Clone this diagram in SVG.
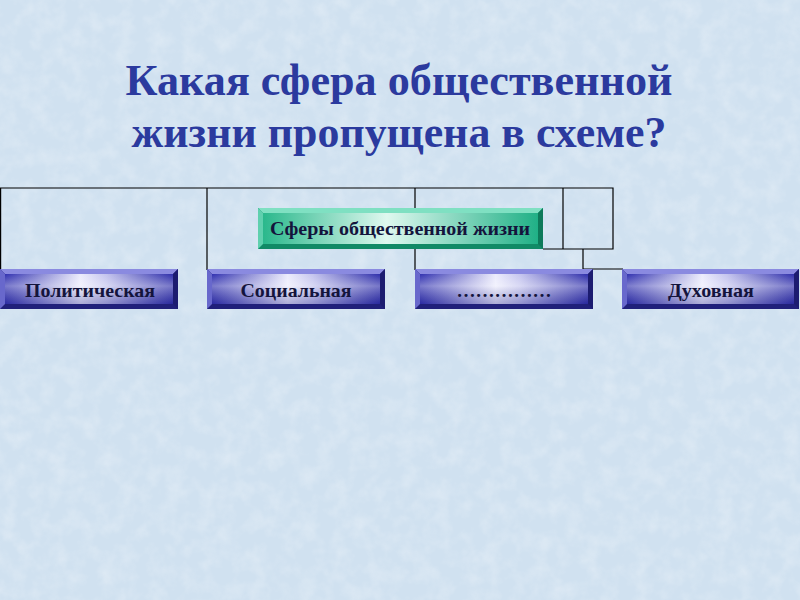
<svg xmlns="http://www.w3.org/2000/svg" width="800" height="600" viewBox="0 0 800 600">
<style>
.title{font-family:"Liberation Serif","DejaVu Serif",serif;font-weight:bold;font-size:45px;fill:#2b3a9e;text-anchor:middle}
.lbl{font-family:"Liberation Serif","DejaVu Serif",serif;font-weight:bold;font-size:19px;fill:#14143c;text-anchor:middle}
.conn{stroke:#000;stroke-width:1.2;fill:none}
</style>
<defs>
<filter id="tex" x="0" y="0" width="100%" height="100%">
<feTurbulence type="fractalNoise" baseFrequency="0.06" numOctaves="3" seed="4"/>
<feColorMatrix type="matrix" values="0 0 0 0 1  0 0 0 0 1  0 0 0 0 1  0 0 0 0.9 -0.35"/>
</filter>
<linearGradient id="blueFace" x1="0" y1="0" x2="1" y2="0">
<stop offset="0" stop-color="#3232b0"/>
<stop offset="0.45" stop-color="#ececfc"/>
<stop offset="0.6" stop-color="#c4c4ee"/>
<stop offset="1" stop-color="#2e2eaa"/>
</linearGradient>
<linearGradient id="blueV" x1="0" y1="0" x2="0" y2="1">
<stop offset="0" stop-color="#ffffff" stop-opacity="0"/>
<stop offset="0.4" stop-color="#ffffff" stop-opacity="0.35"/>
<stop offset="1" stop-color="#1a1a80" stop-opacity="0.3"/>
</linearGradient>
<linearGradient id="greenFace" x1="0" y1="0" x2="1" y2="0">
<stop offset="0" stop-color="#2ab88c"/>
<stop offset="0.45" stop-color="#dff8ef"/>
<stop offset="1" stop-color="#20b086"/>
</linearGradient>
</defs>
<rect width="800" height="600" fill="#d0e1f0"/>
<rect width="800" height="600" filter="url(#tex)" opacity="0.55"/>

<text class="title" x="399" y="95" textLength="547" lengthAdjust="spacingAndGlyphs">Какая сфера общественной</text>
<text class="title" x="399" y="147" textLength="535" lengthAdjust="spacingAndGlyphs">жизни пропущена в схеме?</text>

<g id="connectors" class="conn">
<path d="M0.6,270 V188 H613 V249 H543"/>
<path d="M207,188 V270"/>
<path d="M415,188 V209 M415,249 V270"/>
<path d="M563,188 V249"/>
<path d="M583,249 V269 H623"/>
</g>

<g id="center">
<rect x="258" y="208" width="285" height="41" fill="#118a66"/>
<polygon points="258,208 543,208 538,213 263,213" fill="#7fe0c2"/>
<polygon points="258,208 263,213 263,244 258,249" fill="#5fd0ae"/>
<polygon points="543,208 543,249 538,244 538,213" fill="#0d7a5a"/>
<rect x="263" y="213" width="275" height="31" fill="url(#greenFace)"/>
<text class="lbl" x="400" y="235" font-size="18" textLength="260" lengthAdjust="spacingAndGlyphs">Сферы общественной жизни</text>
</g>

<g id="n1">
<rect x="0" y="269" width="178" height="40" fill="#20207a"/>
<polygon points="0,269 178,269 173,274 5,274" fill="#8a8ae0"/>
<polygon points="0,269 5,274 5,304 0,309" fill="#6868cc"/>
<polygon points="178,269 178,309 173,304 173,274" fill="#1c1c70"/>
<rect x="5" y="274" width="168" height="30" fill="url(#blueFace)"/>
<rect x="5" y="274" width="168" height="30" fill="url(#blueV)"/>
<text class="lbl" x="90" y="297" textLength="130" lengthAdjust="spacingAndGlyphs">Политическая</text>
</g>

<g id="n2">
<rect x="207" y="269" width="178" height="40" fill="#20207a"/>
<polygon points="207,269 385,269 380,274 212,274" fill="#8a8ae0"/>
<polygon points="207,269 212,274 212,304 207,309" fill="#6868cc"/>
<polygon points="385,269 385,309 380,304 380,274" fill="#1c1c70"/>
<rect x="212" y="274" width="168" height="30" fill="url(#blueFace)"/>
<rect x="212" y="274" width="168" height="30" fill="url(#blueV)"/>
<text class="lbl" x="296" y="297" textLength="111" lengthAdjust="spacingAndGlyphs">Социальная</text>
</g>

<g id="n3">
<rect x="415" y="269" width="178" height="40" fill="#20207a"/>
<polygon points="415,269 593,269 588,274 420,274" fill="#8a8ae0"/>
<polygon points="415,269 420,274 420,304 415,309" fill="#6868cc"/>
<polygon points="593,269 593,309 588,304 588,274" fill="#1c1c70"/>
<rect x="420" y="274" width="168" height="30" fill="url(#blueFace)"/>
<rect x="420" y="274" width="168" height="30" fill="url(#blueV)"/>
<text class="lbl" x="504" y="297" font-weight="normal" textLength="95" lengthAdjust="spacingAndGlyphs">……………</text>
</g>

<g id="n4">
<rect x="622" y="269" width="177" height="40" fill="#20207a"/>
<polygon points="622,269 799,269 794,274 627,274" fill="#8a8ae0"/>
<polygon points="622,269 627,274 627,304 622,309" fill="#6868cc"/>
<polygon points="799,269 799,309 794,304 794,274" fill="#1c1c70"/>
<rect x="627" y="274" width="167" height="30" fill="url(#blueFace)"/>
<rect x="627" y="274" width="167" height="30" fill="url(#blueV)"/>
<text class="lbl" x="711" y="297" textLength="86" lengthAdjust="spacingAndGlyphs">Духовная</text>
</g>
</svg>
